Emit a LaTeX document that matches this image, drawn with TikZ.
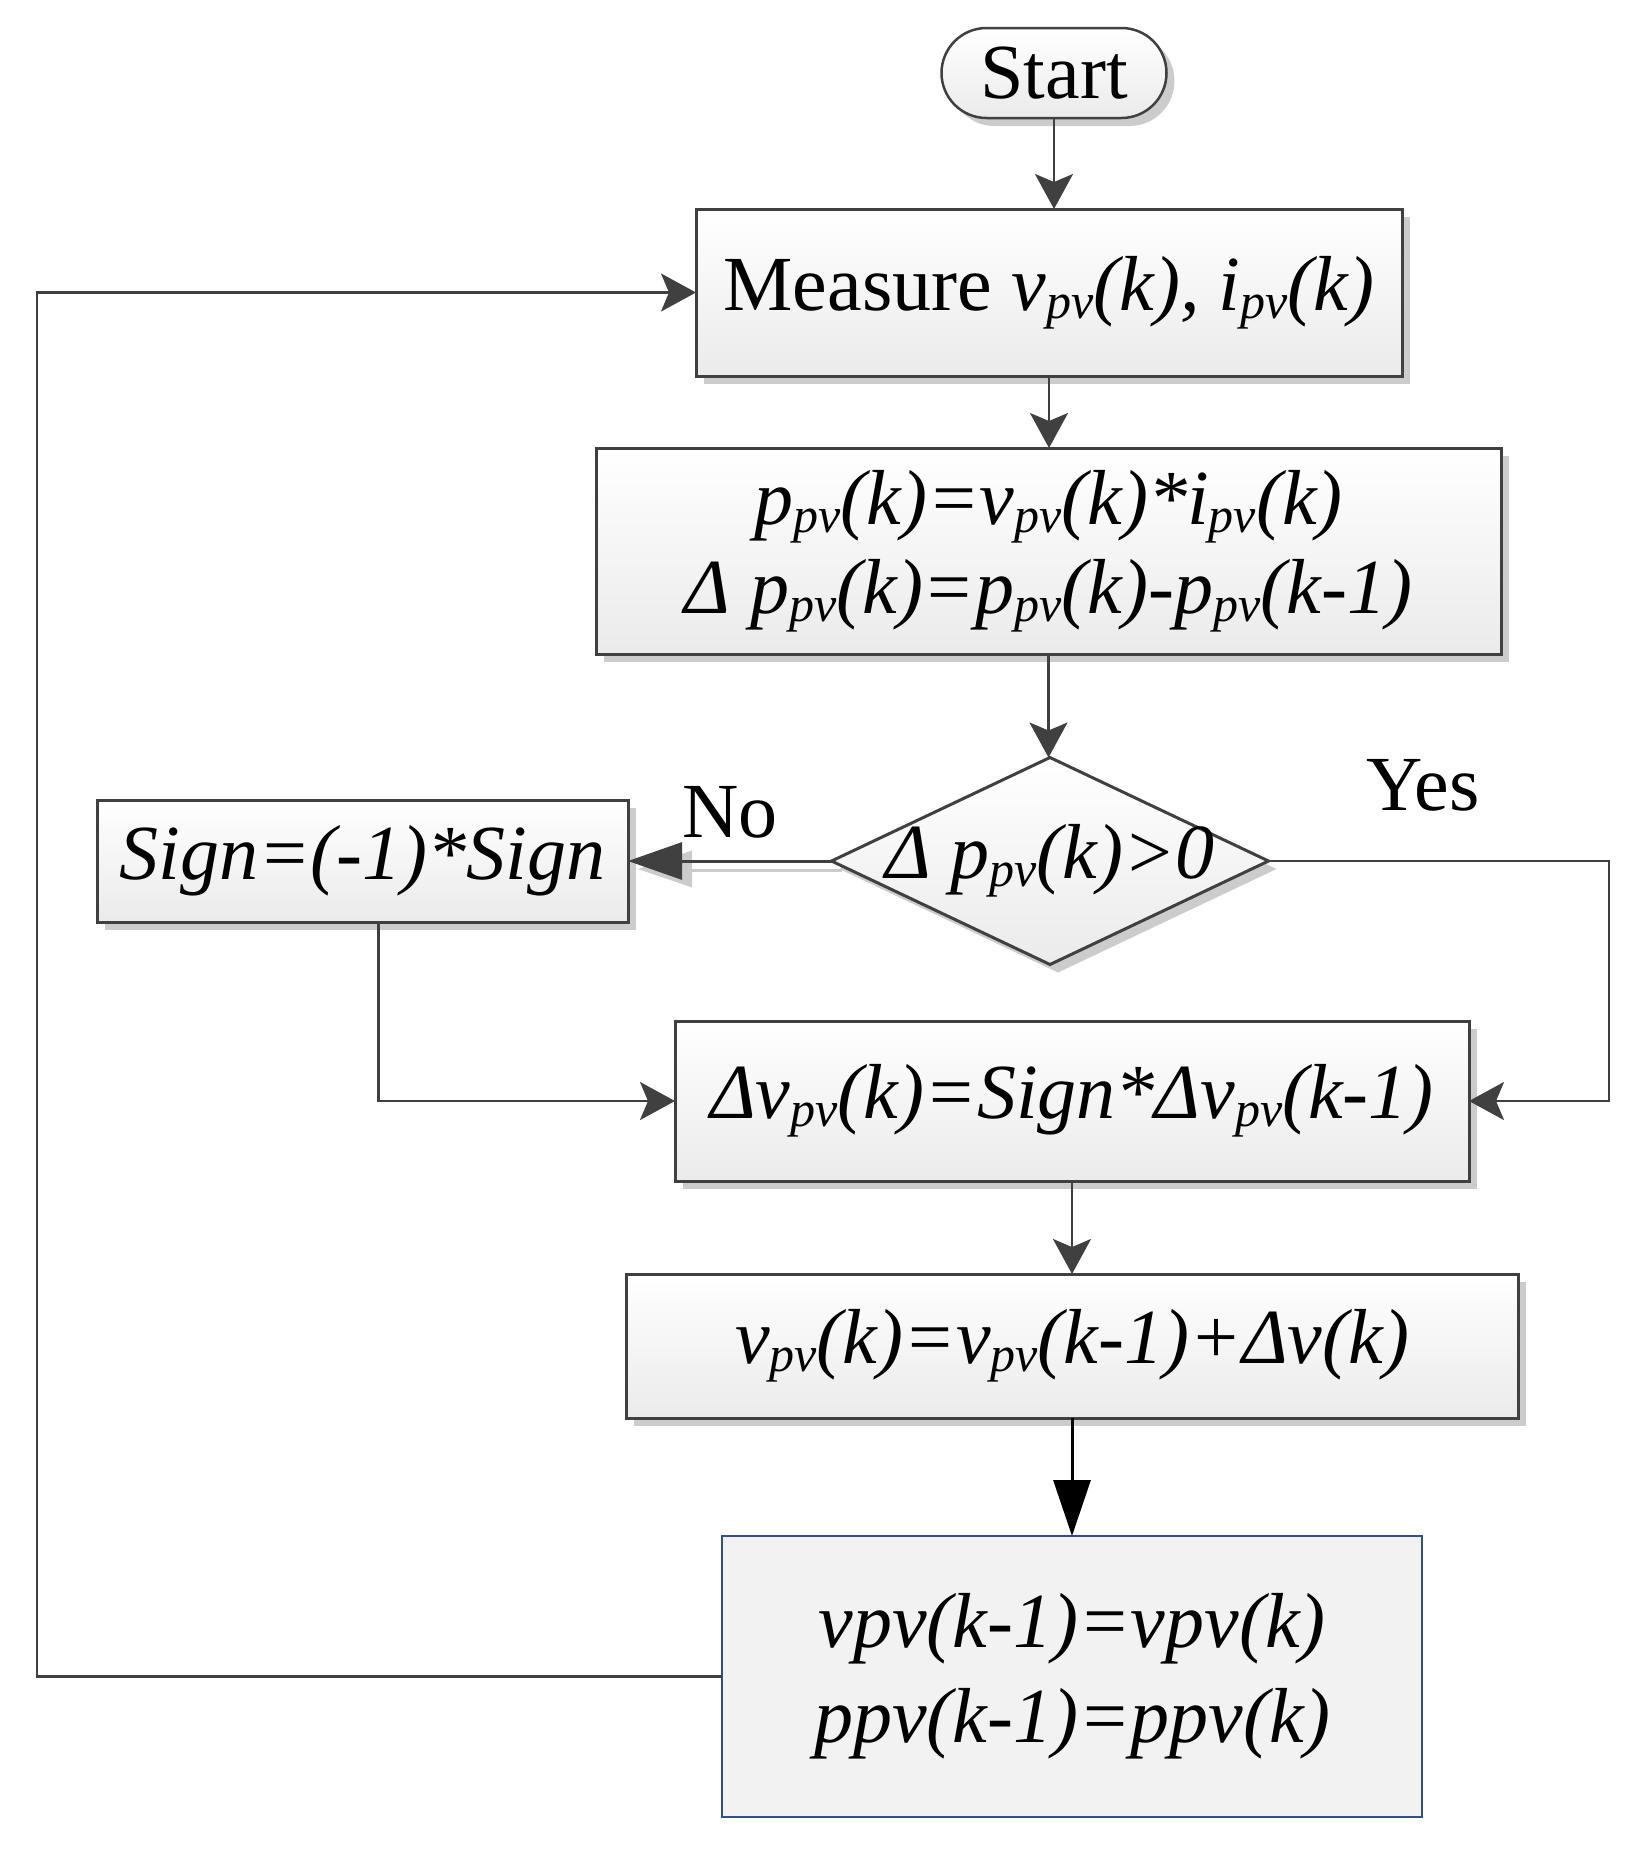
\documentclass[tikz,border=0pt]{standalone}
\usepackage{fontspec}
\setmainfont{Liberation Serif}
\usetikzlibrary{shapes.geometric,shadows,arrows.meta,calc}
\definecolor{bd}{HTML}{404040}
\definecolor{bl}{HTML}{2E5090}
\definecolor{lastfill}{HTML}{F2F2F2}
\definecolor{shd}{HTML}{CCCCCC}
\newcommand{\sbs}[1]{\raisebox{-0.1em}{\fontsize{50}{50}\selectfont #1}}
\begin{document}
\begin{tikzpicture}[x=1pt,y=-1pt,
  base/.style={font=\fontsize{78}{89}\selectfont, inner sep=0pt, outer sep=0pt},
  itbase/.style={base, font=\fontsize{78}{89}\selectfont\itshape},
  sh/.style={drop shadow={shadow xshift=8pt, shadow yshift=-8pt, fill=shd, opacity=1}},
  box/.style={itbase, rectangle, draw=bd, line width=3pt, top color=white, bottom color=black!8, sh},
  diabox/.style={itbase, diamond, draw=bd, line width=3pt, top color=white, bottom color=black!8, sh},
  arr/.style={draw=bd, line width=2.5pt, -{Stealth[length=35pt, width=38pt, inset=8pt]}},
  bigarr/.style={line width=3pt, -{Triangle[length=54pt, width=37pt]}}
]
\useasboundingbox (0,0) rectangle (1637,1861);

\node[box, font=\fontsize{78}{89}\selectfont, minimum width=225pt, minimum height=90pt, rounded corners=45pt, line width=2.5pt] (start) at (1054,73) {Start};

\node[box, font=\fontsize{78}{89}\selectfont, minimum width=706pt, minimum height=167pt] (meas) at (1049,292.5) {Measure \textit{v\sbs{pv}(k), i\sbs{pv}(k)}};

\node[box, align=center, minimum width=905pt, minimum height=206pt] (pbox) at (1048.5,551) {p\sbs{pv}(k)=v\sbs{pv}(k)*i\sbs{pv}(k)\\Δ p\sbs{pv}(k)=p\sbs{pv}(k)-p\sbs{pv}(k-1)};

\node[diabox, minimum width=437pt, minimum height=207pt] (dia) at (1050,861) {\makebox[0pt]{Δ p\sbs{pv}(k)>0}};

\node[box, minimum width=531pt, minimum height=122pt] (sign) at (362.5,861) {Sign=(-1)*Sign};

\node[box, minimum width=794pt, minimum height=160pt] (dv) at (1072,1101) {Δv\sbs{pv}(k)=Sign*Δv\sbs{pv}(k-1)};

\node[box, minimum width=892pt, minimum height=144pt] (vbox) at (1072,1346) {v\sbs{pv}(k)=v\sbs{pv}(k-1)+Δv(k)};

\node[itbase, font=\fontsize{78}{95}\selectfont\itshape, align=center, rectangle, draw=bl, line width=2pt, fill=lastfill, minimum width=700pt, minimum height=281pt] (last) at (1072,1676.5) {vpv(k-1)=vpv(k)\\ppv(k-1)=ppv(k)};

\node[base] (no) at (730,812) {No};
\node[base] (yes) at (1423,785) {Yes};

% connectors
\draw[arr] (start.south) -- (start.south |- meas.north);
\draw[arr] (meas.south) -- (meas.south |- pbox.north);
\draw[arr] (pbox.south) -- (pbox.south |- dia.north);

% No branch with shadow
\draw[shd, line width=3pt] ([shift={(10,9)}]dia.west) -- ([shift={(64,9)}]sign.east);
\fill[shd] ([shift={(10,8)}]sign.east) -- ++(54,-18.5) -- ++(0,37) -- cycle;
\draw[bd, bigarr] (dia.west) -- (sign.east);

% Yes branch
\coordinate (yc) at (1609,1101);
\draw[arr] (dia.east) -| (yc) -- (dv.east);

\draw[arr] ([xshift=16pt]sign.south) |- (dv.west);
\draw[arr] (dv.south) -- (dv.south |- vbox.north);
\draw[black, line width=3pt, -{Triangle[length=56pt, width=37pt]}] (vbox.south) -- (vbox.south |- last.north);

% feedback
\coordinate (fb) at (37,292.5);
\draw[arr] (last.west) -| (fb) -- (meas.west);
\end{tikzpicture}
\end{document}
